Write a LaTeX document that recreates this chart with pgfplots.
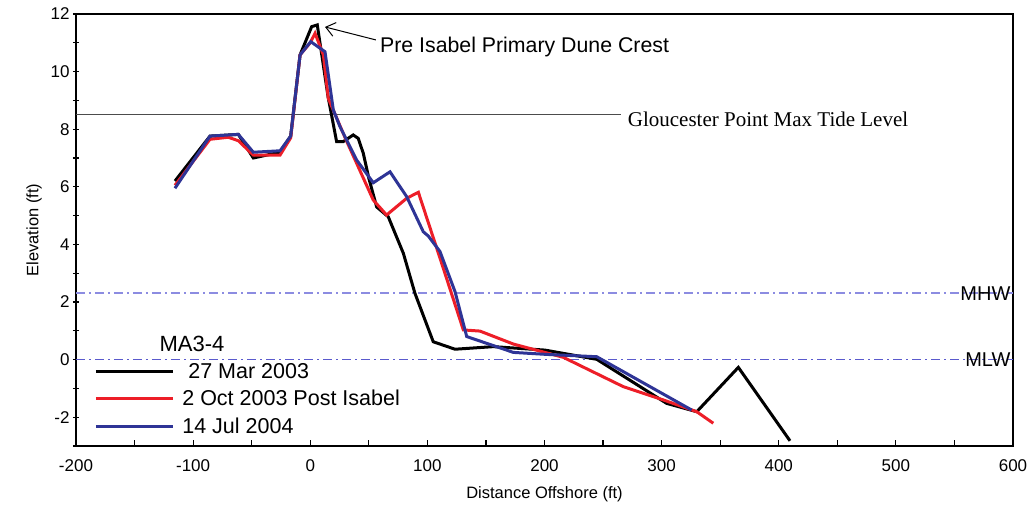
\documentclass[border=0pt]{standalone}
\usepackage{pgfplots}
\pgfplotsset{compat=1.18}
\usepackage{fontspec}
\setmainfont{Liberation Sans}
\newfontfamily\tnr{Liberation Serif}
\usetikzlibrary{arrows.meta}
\definecolor{cred}{RGB}{237,30,40}
\definecolor{cblue}{RGB}{46,52,150}
\definecolor{mhwcol}{RGB}{140,140,225}
\definecolor{mlwcol}{RGB}{90,90,205}
\begin{document}
\begin{tikzpicture}
\useasboundingbox (-76pt,-65pt) rectangle (952pt,446pt);
\begin{axis}[
  width=937pt, height=432pt, scale only axis,
  xmin=-200, xmax=600, ymin=-3, ymax=12,
  xtick={-200,-100,...,600}, minor xtick={-150,-50,...,550},
  ytick={-2,0,...,12}, minor ytick={-3,-1,...,11},
  tick pos=left,
  major tick length=6pt, minor tick length=6pt,
  xtick align=inside, ytick align=center,
  every tick/.style={black, line width=1.2pt},
  axis line style={black, line width=1.6pt},
  tick label style={font=\fontsize{17}{17}\selectfont},
  xticklabel style={yshift=-10pt},
  /pgf/number format/assume math mode=true,
  xlabel={Distance Offshore (ft)}, ylabel={Elevation (ft)},
  label style={font=\fontsize{16.5}{16.5}\selectfont},
  xlabel style={yshift=-8pt},
  ylabel style={yshift=2pt},
  legend style={at={(axis cs:-184.5,-0.05)}, anchor=north west, draw=none, fill=none,
    font=\fontsize{21.5}{21.5}\selectfont, row sep=6.5pt, inner sep=0pt},
  legend cell align=left,
  legend image code/.code={\draw[#1] (0pt,0pt) -- (77pt,0pt); \path (83pt,0pt);},
  clip=false,
]
\addplot[line width=1.8pt, draw=mhwcol, dash pattern=on 9pt off 4pt on 2pt off 4pt, forget plot] coordinates {(-200,2.3) (600,2.3)};
\addplot[line width=1.8pt, draw=mlwcol, dash pattern=on 9pt off 4pt on 2pt off 4pt, forget plot] coordinates {(-200,0) (600,0)};
\addplot[line width=1.3pt, draw=black!70, forget plot] coordinates {(-200,8.5) (265,8.5)};
\addplot[line width=3pt, black] coordinates {
(-115.5,6.2) (-85.6,7.76) (-61.4,7.82) (-48.6,7.0) (-25.8,7.2) (-16.7,7.76) (-8.7,10.58)
(1.2,11.56) (6.0,11.62) (15.2,9.13) (22.5,7.57) (28.2,7.57) (36.7,7.8) (41,7.68) (45.3,7.16)
(50,6.3) (56.7,5.3) (66.6,4.96) (79.5,3.69) (89.4,2.3) (105,0.62) (123.6,0.36) (156.3,0.45)
(200.4,0.33) (244.6,0.01) (304.3,-1.52) (330,-1.81) (365.5,-0.27) (409.6,-2.82)};
\addlegendentry{\ 27 Mar 2003}
\addplot[line width=3pt, cred] coordinates {
(-115.5,6.05) (-85.6,7.65) (-70,7.72) (-61.4,7.6) (-48.6,7.1) (-25.8,7.1) (-16.7,7.7)
(-8.7,10.58) (0,11.0) (4.1,11.33) (11.2,10.58) (15.4,9.07) (30,7.68) (53.8,5.54) (65.2,5.02)
(82.3,5.6) (92.3,5.81) (110.8,3.52) (130.7,1.03) (144.9,0.99) (173.4,0.54) (216,0.08)
(267.3,-0.94) (301.4,-1.4) (330,-1.81) (344.1,-2.21)};
\addlegendentry{2 Oct 2003 Post Isabel}
\addplot[line width=3pt, cblue] coordinates {
(-115.5,5.95) (-85.6,7.76) (-61.4,7.82) (-48.6,7.2) (-25.8,7.25) (-16.7,7.76) (-8.7,10.58)
(0.4,11.04) (12.6,10.69) (19.7,8.67) (25.4,8.09) (39.6,6.93) (53.8,6.14) (68.1,6.52)
(82.3,5.66) (96.5,4.44) (100.8,4.29) (110.8,3.75) (123.6,2.36) (133.6,0.8) (173.4,0.25)
(201.9,0.18) (244.6,0.1) (325.6,-1.75)};
\addlegendentry{14 Jul 2004}
\node[anchor=west, font=\tnr\fontsize{21}{21}\selectfont, inner sep=0pt] at (axis cs:271,8.33) {Gloucester Point Max Tide Level};
\node[anchor=east, font=\fontsize{20}{20}\selectfont, inner sep=0pt] at (axis cs:598,2.3) {MHW};
\node[anchor=east, font=\fontsize{20}{20}\selectfont, inner sep=0pt] at (axis cs:598,0) {MLW};
\node[font=\fontsize{22}{22}\selectfont, inner sep=0pt] at (axis cs:-101,0.55) {MA3-4};
\node[anchor=west, font=\fontsize{21.3}{21.3}\selectfont, inner sep=0pt] at (axis cs:59.5,10.87) {Pre Isabel Primary Dune Crest};
\draw[line width=1pt, -{Straight Barb[length=9pt,width=14pt]}] (axis cs:56,11.1) -- (axis cs:12.6,11.55);
\end{axis}
\end{tikzpicture}
\end{document}
